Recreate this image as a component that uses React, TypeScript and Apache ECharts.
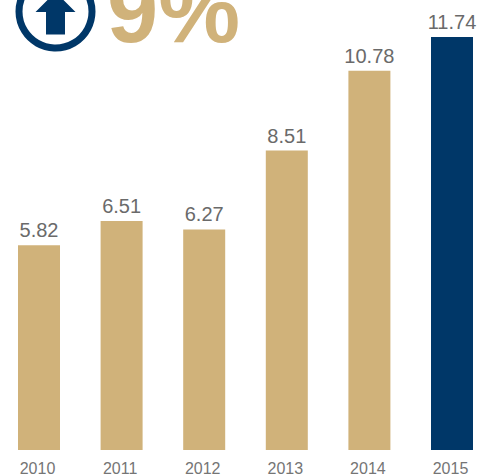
import React, { useEffect, useRef } from "react";
import * as echarts from "echarts";

const categories = ["2010", "2011", "2012", "2013", "2014", "2015"];
const values = [5.82, 6.51, 6.27, 8.51, 10.78, 11.74];
const headline = "9%";
const GOLD = "#d0b27a";
const NAVY = "#003768";

export default function App() {
  const ref = useRef<HTMLDivElement>(null);
  useEffect(() => {
    const chart = echarts.init(ref.current!, undefined, { renderer: "svg" });
    chart.setOption({
      animation: false,
      backgroundColor: "#ffffff",
      grid: { left: -2.3, width: 495.6, top: 0, height: 450, outerBoundsMode: "none" },
      xAxis: {
        type: "category",
        data: categories,
        axisLine: { show: false },
        axisTick: { show: false },
        axisLabel: {
          color: "#757575",
          fontFamily: "Liberation Sans",
          fontSize: 16,
          margin: 10,
          interval: 0,
          padding: [0, 3, 0, 0],
        },
      },
      yAxis: { type: "value", min: 0, max: 12.79, show: false, splitLine: { show: false } },
      series: [
        {
          type: "bar",
          barWidth: 42,
          data: values.map((v, i) => ({
            value: v,
            itemStyle: { color: i === values.length - 1 ? NAVY : GOLD },
          })),
          label: {
            show: true,
            position: "top",
            distance: 5,
            color: "#6a6a6a",
            fontFamily: "Liberation Sans",
            fontSize: 20,
            formatter: (p: any) => p.value.toFixed(2),
          },
        },
      ],
      graphic: [
        {
          type: "circle",
          shape: { cx: 55.5, cy: 11.5, r: 36.5 },
          style: { fill: "none", stroke: NAVY, lineWidth: 7 },
        },
        {
          type: "polygon",
          shape: {
            points: [
              [55.5, -8],
              [75.5, 12],
              [65, 12],
              [65, 34.5],
              [46, 34.5],
              [46, 12],
              [35.5, 12],
            ],
          },
          style: { fill: NAVY },
        },
        {
          type: "text",
          x: 107,
          y: 56,
          style: {
            text: headline,
            fill: GOLD,
            font: "bold 92px 'Liberation Sans'",
            verticalAlign: "bottom",
          },
        },
      ],
    });
    return () => chart.dispose();
  }, []);
  return (
    <div
      ref={ref}
      style={{ position: "fixed", left: 0, top: 0, width: 484, height: 476 }}
    />
  );
}
